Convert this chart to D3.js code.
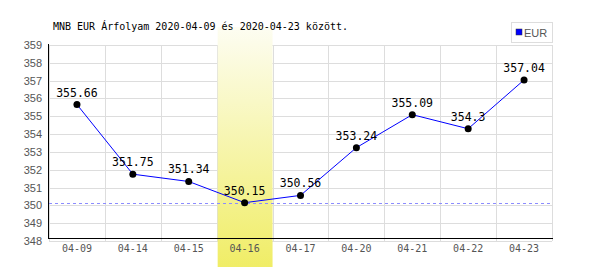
<!DOCTYPE html>
<html>
<head>
<meta charset="utf-8">
<script src="https://d3js.org/d3.v7.min.js"></script>
<style>
body { margin: 0; background: #fff; }
svg { display: block; }
</style>
</head>
<body>
<svg width="600" height="270"></svg>
<script>
var dates = ["04-09", "04-14", "04-15", "04-16", "04-17", "04-20", "04-21", "04-22", "04-23"];
var rates = [355.66, 351.75, 351.34, 350.15, 350.56, 353.24, 355.09, 354.3, 357.04];
var yTicks = [348, 349, 350, 351, 352, 353, 354, 355, 356, 357, 358, 359];
var highlightDate = "04-16";
var refValue = 350.15;

var svg = d3.select("svg");
var mono = "'DejaVu Sans Mono', monospace";

var x = d3.scaleBand().domain(dates).range([49, 552]);
var y = d3.scaleLinear().domain([348, 359]).range([241, 45]);

// gradient for highlighted day
var grad = svg.append("defs").append("linearGradient")
    .attr("id", "hl").attr("x1", 0).attr("y1", 0).attr("x2", 0).attr("y2", 1);
grad.append("stop").attr("offset", "0%").attr("stop-color", "#fdfdf2");
grad.append("stop").attr("offset", "100%").attr("stop-color", "#f0ed66");

// grid
svg.append("g").selectAll("line")
  .data(yTicks)
  .enter().append("line")
    .attr("x1", 49).attr("x2", 552)
    .attr("y1", function(d) { return Math.round(y(d)) + 0.5; })
    .attr("y2", function(d) { return Math.round(y(d)) + 0.5; })
    .attr("stroke", "#dddddd");

svg.append("g").selectAll("line")
  .data(dates.concat(["end"]))
  .enter().append("line")
    .attr("x1", function(d, i) { return Math.round(49 + i * x.step()) + 0.5; })
    .attr("x2", function(d, i) { return Math.round(49 + i * x.step()) + 0.5; })
    .attr("y1", 45).attr("y2", 241)
    .attr("stroke", "#dddddd");

// highlight band
svg.append("rect")
    .attr("x", x(highlightDate) + 1)
    .attr("width", x.bandwidth() - 1)
    .attr("y", 27)
    .attr("height", 240)
    .attr("fill", "url(#hl)");

// reference line
svg.append("line")
    .attr("x1", 49).attr("x2", 552)
    .attr("y1", Math.round(y(refValue)) + 0.5)
    .attr("y2", Math.round(y(refValue)) + 0.5)
    .attr("stroke", "#8c8cff")
    .attr("shape-rendering", "crispEdges")
    .attr("stroke-dasharray", "3,3");

// axes
svg.append("line")
    .attr("x1", 48.5).attr("x2", 48.5).attr("y1", 44).attr("y2", 238)
    .attr("stroke", "#000");
svg.append("line")
    .attr("x1", 48).attr("x2", 553).attr("y1", 238.5).attr("y2", 238.5)
    .attr("stroke", "#000");

svg.append("g").selectAll("text")
  .data(yTicks)
  .enter().append("text")
    .attr("x", 42)
    .attr("y", function(d) { return y(d) + 4; })
    .attr("text-anchor", "end")
    .attr("font-family", "'Liberation Sans', Arial, sans-serif")
    .attr("font-size", 11)
    .attr("fill", "#555")
    .text(function(d) { return d; });

svg.append("g").selectAll("text")
  .data(dates)
  .enter().append("text")
    .attr("x", function(d) { return x(d) + x.bandwidth() / 2; })
    .attr("y", 252)
    .attr("text-anchor", "middle")
    .attr("font-family", mono)
    .attr("font-size", 10)
    .attr("fill", "#555")
    .text(function(d) { return d; });

// series
var line = d3.line()
    .x(function(d, i) { return x(dates[i]) + x.bandwidth() / 2; })
    .y(function(d) { return y(d); });

svg.append("path")
    .datum(rates)
    .attr("d", line)
    .attr("fill", "none")
    .attr("stroke", "#0000ff")
    .attr("stroke-width", 1);

svg.append("g").selectAll("circle")
  .data(rates)
  .enter().append("circle")
    .attr("cx", function(d, i) { return x(dates[i]) + x.bandwidth() / 2; })
    .attr("cy", function(d) { return y(d); })
    .attr("r", 3.5)
    .attr("fill", "#000");

svg.append("g").selectAll("text")
  .data(rates)
  .enter().append("text")
    .attr("x", function(d, i) { return x(dates[i]) + x.bandwidth() / 2; })
    .attr("y", function(d) { return y(d) - 8; })
    .attr("text-anchor", "middle")
    .attr("font-family", mono)
    .attr("font-size", 11.5)
    .attr("fill", "#000")
    .text(function(d) { return d; });

// title
svg.append("text")
    .attr("x", 53).attr("y", 30)
    .attr("font-family", mono)
    .attr("font-size", 10)
    .attr("fill", "#000")
    .text("MNB EUR Árfolyam 2020-04-09 és 2020-04-23 között.");

// legend
var lg = svg.append("g").attr("id", "legend");
lg.append("rect")
    .attr("x", 511.5).attr("y", 22.5).attr("width", 41).attr("height", 20)
    .attr("fill", "#fff").attr("stroke", "#dddddd");
lg.append("rect")
    .attr("x", 516).attr("y", 29).attr("width", 6).attr("height", 6)
    .attr("fill", "#0000ff").attr("stroke", "#333").attr("stroke-width", 0.5);
lg.append("text")
    .attr("x", 524).attr("y", 37)
    .attr("font-family", "'Liberation Sans', Arial, sans-serif")
    .attr("font-size", 11)
    .attr("fill", "#555")
    .text("EUR");
</script>
</body>
</html>
